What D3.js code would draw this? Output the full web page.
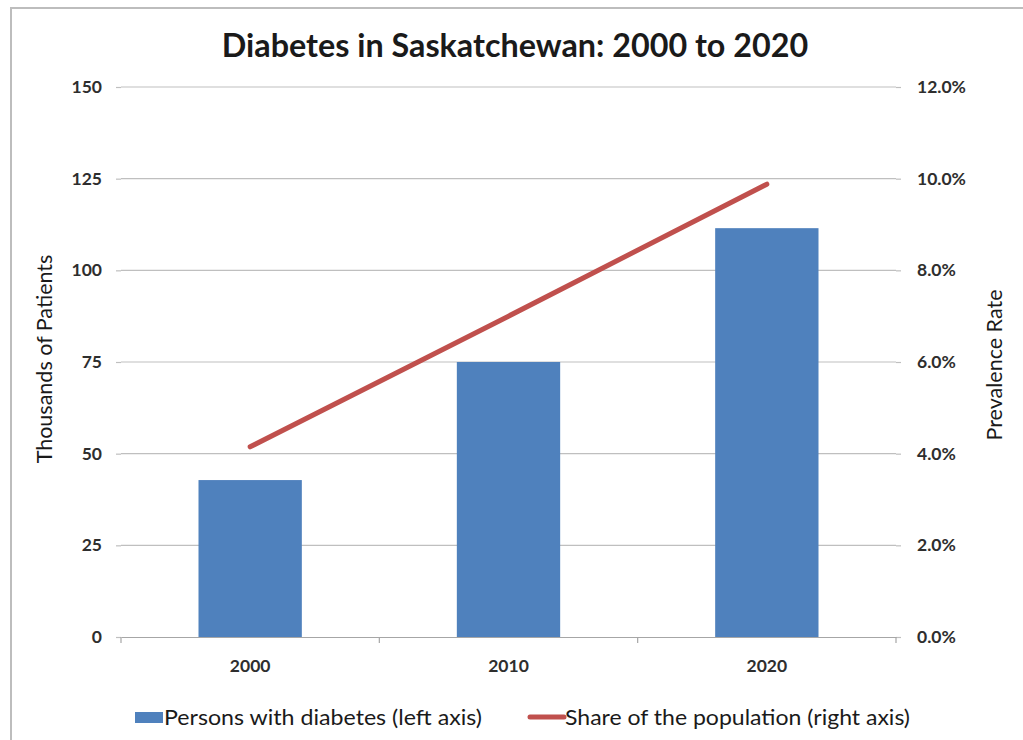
<!DOCTYPE html>
<html>
<head>
<meta charset="utf-8">
<script src="https://cdn.jsdelivr.net/npm/d3@7"></script>
<style>
  html, body { margin: 0; padding: 0; background: #fff; }
  svg { display: block; }
</style>
</head>
<body>
<svg id="chart" width="1023" height="740"></svg>
<script>
const years = ["2000", "2010", "2020"];
const persons = [42.8, 75.0, 111.5];          // thousands of patients (left axis)
const share = [0.0415, 0.070, 0.0988];        // share of population (right axis)
const leftTicks = [0, 25, 50, 75, 100, 125, 150];
const rightTicks = [0, 0.02, 0.04, 0.06, 0.08, 0.10, 0.12];

const titleText = "Diabetes in Saskatchewan: 2000 to 2020";
const leftTitle = "Thousands of Patients";
const rightTitle = "Prevalence Rate";
const legendBar = "Persons with diabetes (left axis)";
const legendLine = "Share of the population (right axis)";

const svg = d3.select("#chart");
const W = 1023, H = 740;
const m = { left: 121, right: 896, top: 87, bottom: 637 };
const font = "Lato, 'Open Sans', sans-serif";
const barColor = "#4f81bd";
const lineColor = "#c0504d";
const textColor = "#1a1a1a";
const tickColor = "#2e2e2e";
const tickFont = 17.5;

// frame
svg.append("rect").attr("x", 11).attr("y", 8).attr("width", W + 10).attr("height", H + 10)
  .attr("fill", "#fff").attr("stroke", "#bdbdbd").attr("stroke-width", 2);

const x = d3.scaleBand().domain(years).range([m.left, m.right]).padding(0);
const yL = d3.scaleLinear().domain([0, 150]).range([m.bottom, m.top]);
const yR = d3.scaleLinear().domain([0, 0.12]).range([m.bottom, m.top]);

// gridlines
svg.append("g").selectAll("line").data(leftTicks.filter(d => d > 0)).join("line")
  .attr("x1", m.left).attr("x2", m.right)
  .attr("y1", d => yL(d)).attr("y2", d => yL(d))
  .attr("stroke", "#bfbfbf").attr("stroke-width", 1.2);

// left axis
const gL = svg.append("g").attr("transform", `translate(${m.left},0)`)
  .call(d3.axisLeft(yL).tickValues(leftTicks).tickSize(5).tickPadding(14).tickFormat(d3.format("d")));
gL.select(".domain").remove();
gL.selectAll("line").attr("stroke", "#bfbfbf").attr("stroke-width", 1.2);
gL.selectAll("text").attr("font-family", font).attr("font-size", tickFont).attr("font-weight", "bold").attr("fill", tickColor);

// right axis
const gR = svg.append("g").attr("transform", `translate(${m.right},0)`)
  .call(d3.axisRight(yR).tickValues(rightTicks).tickSize(5).tickPadding(16).tickFormat(d3.format(".1%")));
gR.select(".domain").remove();
gR.selectAll("line").attr("stroke", "#bfbfbf").attr("stroke-width", 1.2);
gR.selectAll("text").attr("font-family", font).attr("font-size", tickFont).attr("font-weight", "bold").attr("fill", tickColor);

// bars
const bw = x.bandwidth() * 0.4;
svg.append("g").selectAll("rect").data(years).join("rect")
  .attr("x", (d) => x(d) + x.bandwidth() / 2 - bw / 2)
  .attr("width", bw)
  .attr("y", (d, i) => yL(persons[i]))
  .attr("height", (d, i) => m.bottom - yL(persons[i]))
  .attr("fill", barColor);

// x axis
const gX = svg.append("g").attr("transform", `translate(0,${m.bottom})`)
  .call(d3.axisBottom(x).tickSize(0).tickPadding(23));
gX.select(".domain").attr("stroke", "#a6a6a6").attr("stroke-width", 1.2);
gX.selectAll("text").attr("font-family", font).attr("font-size", tickFont).attr("font-weight", "bold").attr("fill", tickColor);
// category boundary ticks
const bounds = years.map(d => x(d)).concat([x(years[years.length - 1]) + x.bandwidth()]);
svg.append("g").selectAll("line").data(bounds).join("line")
  .attr("x1", d => d).attr("x2", d => d)
  .attr("y1", m.bottom).attr("y2", m.bottom + 6)
  .attr("stroke", "#a6a6a6").attr("stroke-width", 1.2);

// line
const line = d3.line()
  .x((d, i) => x(years[i]) + x.bandwidth() / 2)
  .y(d => yR(d));
svg.append("path").datum(share)
  .attr("d", line).attr("fill", "none")
  .attr("stroke", lineColor).attr("stroke-width", 5).attr("stroke-linecap", "round");

// title
svg.append("text").attr("x", 515).attr("y", 57).attr("text-anchor", "middle")
  .attr("font-family", font).attr("font-size", 32.3).attr("font-weight", "bold").attr("fill", textColor)
  .text(titleText);

// axis titles
svg.append("text").attr("transform", "translate(52,359) rotate(-90)").attr("text-anchor", "middle")
  .attr("font-family", font).attr("font-size", 21.5).attr("fill", textColor).text(leftTitle);
svg.append("text").attr("transform", "translate(1002,365) rotate(-90)").attr("text-anchor", "middle")
  .attr("font-family", font).attr("font-size", 21.5).attr("fill", textColor).text(rightTitle);

// legend
const lg = svg.append("g");
lg.append("rect").attr("x", 135).attr("y", 712).attr("width", 28).attr("height", 11).attr("fill", barColor);
lg.append("text").attr("x", 164).attr("y", 725).attr("font-family", font).attr("font-size", 21)
  .attr("fill", textColor).attr("textLength", 318).attr("lengthAdjust", "spacingAndGlyphs").text(legendBar);
lg.append("line").attr("x1", 530).attr("x2", 564).attr("y1", 717).attr("y2", 717)
  .attr("stroke", lineColor).attr("stroke-width", 5).attr("stroke-linecap", "round");
lg.append("text").attr("x", 565).attr("y", 725).attr("font-family", font).attr("font-size", 21)
  .attr("fill", textColor).attr("textLength", 345).attr("lengthAdjust", "spacingAndGlyphs").text(legendLine);
</script>
</body>
</html>
